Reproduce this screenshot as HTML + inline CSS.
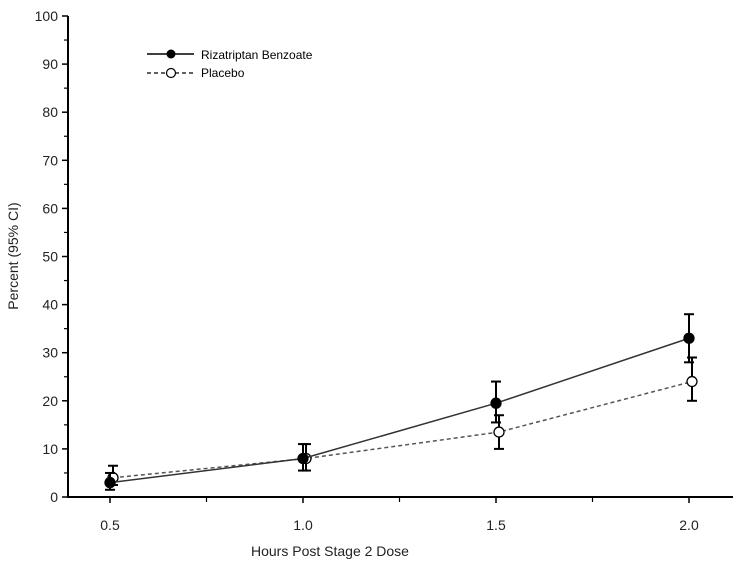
<!DOCTYPE html>
<html><head><meta charset="utf-8"><style>
body{margin:0;background:#fff}
svg{display:block;font-family:"Liberation Sans",Arial,sans-serif}
</style></head><body>
<svg id="chart" width="733" height="563" viewBox="0 0 733 563">
<g id="axes"></g>
<g id="series"></g>
<text x="330" y="556" font-size="14" text-anchor="middle" fill="#222">Hours Post Stage 2 Dose</text>
<text transform="translate(18,256) rotate(-90)" font-size="14" text-anchor="middle" fill="#222">Percent (95% CI)</text>
<g>
<g>
<line x1="147" y1="54" x2="194" y2="54" stroke="#000" stroke-width="1.5"/>
<circle cx="171" cy="54" r="4.5" fill="#000"/>
<text x="201" y="59" font-size="12" fill="#000">Rizatriptan Benzoate</text></g>
<g>
<line x1="147" y1="73" x2="194" y2="73" stroke="#000" stroke-width="1.2" stroke-dasharray="4,3"/>
<circle cx="171" cy="73" r="4.5" fill="#fff" stroke="#000" stroke-width="1.2"/>
<text x="201" y="77" font-size="12" fill="#000">Placebo</text></g>
</g>
</svg>
<script>
const xCats=[0.5,1.0,1.5,2.0];
const xTickLabels=["0.5","1.0","1.5","2.0"];
const yTicks=[0,10,20,30,40,50,60,70,80,90,100];
const rizVals=[3,8,19.5,33];
const rizLo=[1.5,5.5,15.5,28];
const rizHi=[5,11,24,38];
const plaVals=[4,8,13.5,24];
const plaLo=[2.5,5.5,10,20];
const plaHi=[6.5,11,17,29];

const NS="http://www.w3.org/2000/svg";
const X0=68,Y0=497,Y100=16;
const xs=v=>110+(v-0.5)*386;
const ys=v=>Y0-(v/100)*(Y0-Y100);
function mk(tag,attrs,parent){const e=document.createElementNS(NS,tag);for(const k in attrs)e.setAttribute(k,attrs[k]);parent.appendChild(e);return e;}
const axes=document.getElementById('axes'),ser=document.getElementById('series');
let e=mk('line',{x1:X0,y1:Y100,x2:X0,y2:Y0,stroke:'#000','stroke-width':2},axes);


e=mk('line',{x1:X0-1,y1:Y0,x2:733,y2:Y0,stroke:'#000','stroke-width':2},axes);


yTicks.forEach((t,i)=>{
 const y=ys(t);
 mk('line',{x1:X0-6,y1:y,x2:X0,y2:y,stroke:'#000','stroke-width':1.5},axes);
 if(i<yTicks.length-1){const ym=ys(t+5);mk('line',{x1:X0-4,y1:ym,x2:X0,y2:ym,stroke:'#000','stroke-width':1.2},axes);}
 const tx=mk('text',{x:X0-10,y:y+5,'font-size':14,'text-anchor':'end',fill:'#222'},axes);
 tx.textContent=t;
 
 
});
xCats.forEach((c,i)=>{
 const x=xs(c);
 mk('line',{x1:x,y1:Y0,x2:x,y2:Y0+6,stroke:'#000','stroke-width':1.5},axes);
 if(i<xCats.length-1){const xm=xs(c+0.25);mk('line',{x1:xm,y1:Y0,x2:xm,y2:Y0+5,stroke:'#000','stroke-width':1.2},axes);}
 const tx=mk('text',{x:x,y:Y0+33,'font-size':14,'text-anchor':'middle',fill:'#222'},axes);
 tx.textContent=xTickLabels[i];
 
 
});
function drawSeries(vals,lo,hi,dx,filled,dash,name){
 const pts=vals.map((v,i)=>[xs(xCats[i])+dx,ys(v)]);
 const pl=mk('polyline',{points:pts.map(p=>p.join(',')).join(' '),fill:'none',stroke:filled?'#333':'#555','stroke-width':filled?1.5:1.5,'stroke-dasharray':dash},ser);
 
 
 vals.forEach((v,i)=>{
  const x=pts[i][0];
  const g=mk('g',{},ser);
  
  
  mk('line',{x1:x,y1:ys(lo[i]),x2:x,y2:ys(hi[i]),stroke:'#000','stroke-width':2},g);
  mk('line',{x1:x-5,y1:ys(lo[i]),x2:x+5,y2:ys(lo[i]),stroke:'#000','stroke-width':2},g);
  mk('line',{x1:x-5,y1:ys(hi[i]),x2:x+5,y2:ys(hi[i]),stroke:'#000','stroke-width':2},g);
  const c=mk('circle',{cx:x,cy:pts[i][1],r:5,fill:filled?'#000':'#fff',stroke:'#000','stroke-width':1.3},ser);
  
  
 });
}
drawSeries(plaVals,plaLo,plaHi,3,false,'4,3','placebo');
drawSeries(rizVals,rizLo,rizHi,0,true,'none','rizatriptan');
</script>
</body></html>
